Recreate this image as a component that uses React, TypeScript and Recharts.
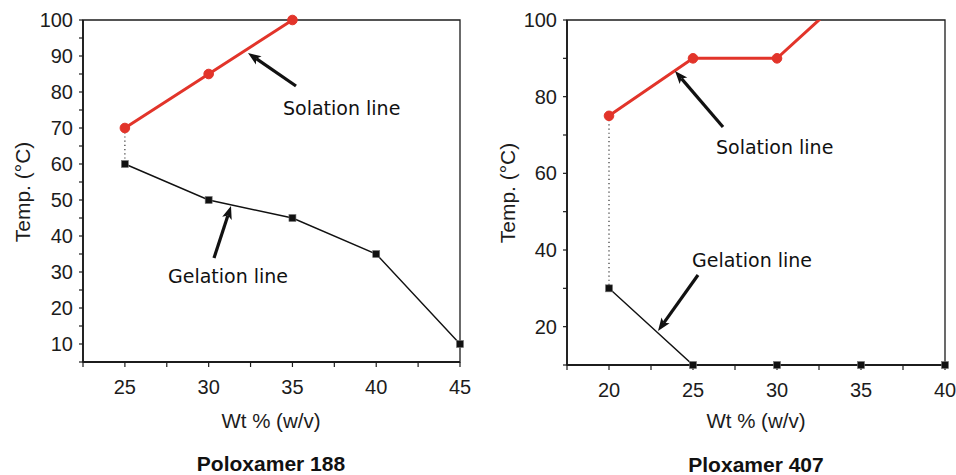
import { LineChart, Line, XAxis, YAxis, ReferenceLine, ReferenceArea } from "recharts";

// Poloxamer 188
const p188Wt = [25, 30, 35, 40, 45];
const p188Sol = [70, 85, 100];
const p188Gel = [60, 50, 45, 35, 10];
const p188XTicks = [22.5, 25, 27.5, 30, 32.5, 35, 37.5, 40, 42.5, 45];
const p188YTicks = [5, 10, 15, 20, 25, 30, 35, 40, 45, 50, 55, 60, 65, 70, 75, 80, 85, 90, 95, 100];

// Ploxamer 407 (last solation point runs off the top of the frame)
const p407Wt = [20, 25, 30, 35, 40];
const p407Sol = [75, 90, 90, 110];
const p407Gel = [30, 10, 10, 10, 10];
const p407XTicks = [17.5, 20, 22.5, 25, 27.5, 30, 32.5, 35, 37.5, 40];
const p407YTicks = [10, 20, 30, 40, 50, 60, 70, 80, 90, 100];

const RED = "#e2342a";
const INK = "#1c1c1c";
const FONT = "'Liberation Sans', Arial, sans-serif";
const HAND = "'DejaVu Sans', sans-serif";

type Row = { wt: number; sol: number | null; gel: number | null };

function rows(wt: number[], sol: number[], gel: number[]): Row[] {
  return wt.map((w, i) => ({ wt: w, sol: sol[i] ?? null, gel: gel[i] ?? null }));
}

const SquareDot = (p: any) => {
  if (p.cx == null || p.cy == null) return <g key={`sq-${p.index}`} />;
  return (
    <rect
      key={`sq-${p.index}`}
      x={p.cx - 3.5}
      y={p.cy - 3.5}
      width={7}
      height={7}
      fill="#111"
      stroke="#777"
      strokeWidth={0.6}
    />
  );
};

function Panel({
  wt,
  sol,
  gel,
  xTicks,
  yTicks,
  yLabelStep,
  width,
  margin,
  clipSol,
}: {
  wt: number[];
  sol: number[];
  gel: number[];
  xTicks: number[];
  yTicks: number[];
  yLabelStep: number;
  width: number;
  margin: { top: number; right: number; bottom: number; left: number };
  clipSol: boolean;
}) {
  const data = rows(wt, sol, gel);
  const xDomain = [xTicks[0], xTicks[xTicks.length - 1]];
  const yDomain = [yTicks[0], yTicks[yTicks.length - 1]];
  const tickStyle = { fill: INK, fontSize: 20, fontFamily: FONT };

  return (
    <LineChart width={width} height={475} data={data} margin={margin}>
      <XAxis
        type="number"
        dataKey="wt"
        domain={xDomain}
        ticks={xTicks}
        interval={0}
        tickFormatter={(v: number) => (v % 5 === 0 ? String(v) : "")}
        tickSize={5}
        tickMargin={13}
        height={30}
        axisLine={{ stroke: INK, strokeWidth: 1.8 }}
        tickLine={{ stroke: INK, strokeWidth: 1.2 }}
        tick={tickStyle}
      />
      <YAxis
        type="number"
        domain={yDomain}
        ticks={yTicks}
        interval={0}
        tickFormatter={(v: number) => (v % yLabelStep === 0 ? String(v) : "")}
        tickSize={4}
        tickMargin={6}
        width={60}
        axisLine={{ stroke: INK, strokeWidth: 1.8 }}
        tickLine={{ stroke: INK, strokeWidth: 1.2 }}
        tick={tickStyle}
      />
      {clipSol && <YAxis yAxisId="clip" hide domain={yDomain} allowDataOverflow />}
      <ReferenceArea
        x1={xDomain[0]}
        x2={xDomain[1]}
        y1={yDomain[0]}
        y2={yDomain[1]}
        fill="none"
        stroke={INK}
        strokeWidth={1.3}
      />
      <ReferenceLine
        segment={[
          { x: wt[0], y: sol[0] },
          { x: wt[0], y: gel[0] },
        ]}
        stroke="#333"
        strokeWidth={1.2}
        strokeDasharray="1.2 3"
      />
      <Line
        dataKey="gel"
        stroke="#111"
        strokeWidth={1.4}
        dot={SquareDot}
        isAnimationActive={false}
      />
      <Line
        dataKey="sol"
        yAxisId={clipSol ? "clip" : 0}
        stroke={RED}
        strokeWidth={3}
        dot={{ r: 4.8, fill: RED, stroke: RED, strokeWidth: 1 }}
        isAnimationActive={false}
      />
    </LineChart>
  );
}

function Arrow({ x1, y1, x2, y2 }: { x1: number; y1: number; x2: number; y2: number }) {
  const dx = x2 - x1;
  const dy = y2 - y1;
  const len = Math.hypot(dx, dy);
  const ux = dx / len;
  const uy = dy / len;
  const hl = 13;
  const hw = 5;
  const bx = x2 - ux * hl;
  const by = y2 - uy * hl;
  const px = -uy;
  const py = ux;
  return (
    <g>
      <line x1={x1} y1={y1} x2={bx + ux * 3} y2={by + uy * 3} stroke="#111" strokeWidth={3.2} />
      <polygon
        points={`${x2},${y2} ${bx + px * hw},${by + py * hw} ${bx + ux * 3},${by + uy * 3} ${bx - px * hw},${by - py * hw}`}
        fill="#111"
      />
    </g>
  );
}

export default function App() {
  return (
    <div
      style={{
        position: "absolute",
        left: 0,
        top: 0,
        width: 956,
        height: 475,
        background: "#fff",
        overflow: "hidden",
      }}
    >
      <div style={{ position: "absolute", left: 0, top: 0 }}>
        <Panel
          wt={p188Wt}
          sol={p188Sol}
          gel={p188Gel}
          xTicks={p188XTicks}
          yTicks={p188YTicks}
          yLabelStep={10}
          width={500}
          margin={{ top: 20, right: 40, bottom: 83, left: 23 }}
          clipSol={false}
        />
      </div>
      <div style={{ position: "absolute", left: 490, top: 0 }}>
        <Panel
          wt={p407Wt}
          sol={p407Sol}
          gel={p407Gel}
          xTicks={p407XTicks}
          yTicks={p407YTicks}
          yLabelStep={20}
          width={466}
          margin={{ top: 20, right: 11, bottom: 80, left: 17 }}
          clipSol={true}
        />
      </div>
      <svg
        width={956}
        height={475}
        style={{ position: "absolute", left: 0, top: 0, pointerEvents: "none" }}
      >
        {/* axis titles */}
        <text
          x={22}
          y={192}
          transform="rotate(-90 22 192)"
          textAnchor="middle"
          dominantBaseline="central"
          fontFamily={FONT}
          fontSize={21}
          fill={INK}
        >
          Temp.  (°C)
        </text>
        <text
          x={507}
          y={193}
          transform="rotate(-90 507 193)"
          textAnchor="middle"
          dominantBaseline="central"
          fontFamily={FONT}
          fontSize={21}
          fill={INK}
        >
          Temp.  (°C)
        </text>
        <text x={271} y={420} textAnchor="middle" dominantBaseline="central" fontFamily={FONT} fontSize={20.5} fill={INK}>
          Wt % (w/v)
        </text>
        <text x={756} y={420} textAnchor="middle" dominantBaseline="central" fontFamily={FONT} fontSize={20.5} fill={INK}>
          Wt % (w/v)
        </text>

        {/* panel captions */}
        <text x={271} y={463} textAnchor="middle" dominantBaseline="central" fontFamily={FONT} fontSize={21} fontWeight="bold" fill="#111">
          Poloxamer 188
        </text>
        <text x={756} y={464} textAnchor="middle" dominantBaseline="central" fontFamily={FONT} fontSize={21} fontWeight="bold" fill="#111">
          Ploxamer 407
        </text>

        {/* annotations */}
        <text x={283} y={115} fontFamily={HAND} fontSize={19} fill="#111">
          Solation line
        </text>
        <text x={168} y={283} fontFamily={HAND} fontSize={19} fill="#111">
          Gelation line
        </text>
        <text x={716} y={154} fontFamily={HAND} fontSize={19} fill="#111">
          Solation line
        </text>
        <text x={692} y={267} fontFamily={HAND} fontSize={19} fill="#111">
          Gelation line
        </text>
        <Arrow x1={296} y1={86} x2={248} y2={53} />
        <Arrow x1={214} y1={258} x2={231} y2={206} />
        <Arrow x1={723} y1={127} x2={675} y2={71} />
        <Arrow x1={698} y1={275} x2={658} y2={331} />
      </svg>
    </div>
  );
}
